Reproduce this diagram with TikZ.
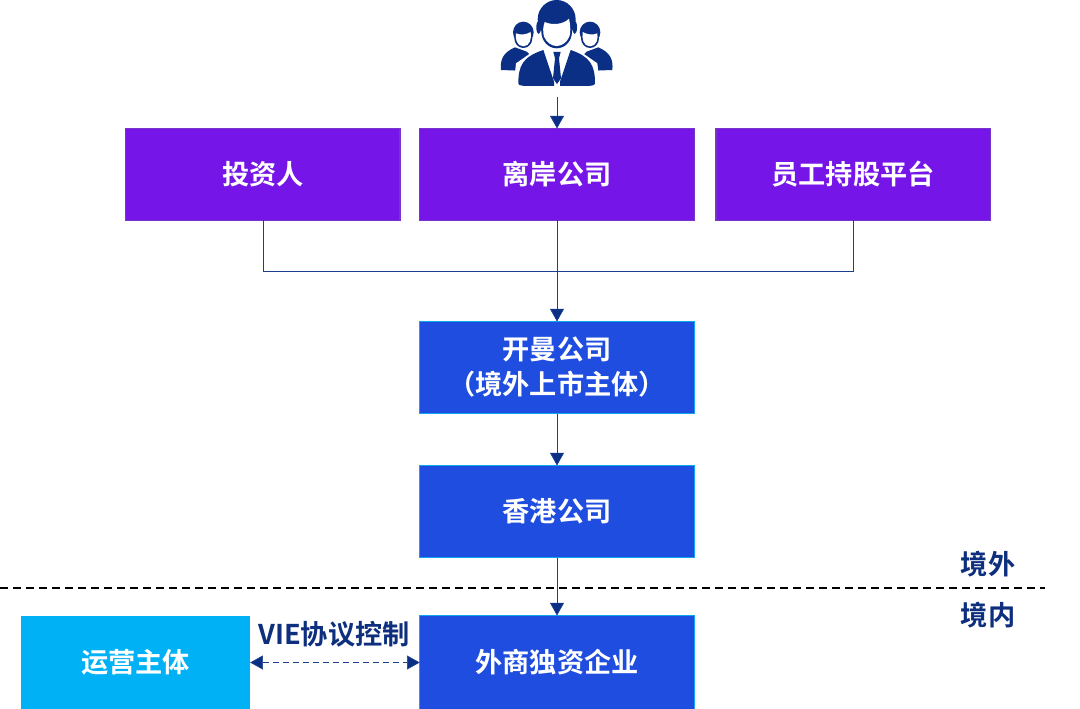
\documentclass[tikz,border=0pt]{standalone}
\usepackage{fontspec}
\setmainfont{Noto Sans CJK SC}[BoldFont={Noto Sans CJK SC Bold}]
\usepackage{xcolor}
\definecolor{Navy Line}{HTML}{1B3F8F}
\definecolor{Navy Text}{HTML}{0D2F7D}
\definecolor{Icon Blue}{HTML}{0A2F85}
\definecolor{Deep Purple}{HTML}{7515E8}
\definecolor{Deep Blue}{HTML}{1E4DE0}
\definecolor{Sky Blue}{HTML}{00B1F6}
\usetikzlibrary{arrows.meta, positioning}
\tikzset{
	x=.75pt,
	y=-.75pt,
	line width=.9pt,
	>={Triangle[length=9.5pt,width=10.5pt,fill=Icon Blue]},
	box/.style={
		minimum width=206pt,
		minimum height=69pt,
		inner sep=0pt,
		outer sep=0pt,
		line width=1.1pt,
		text=white,
		align=center,
		font=\bfseries\fontsize{20.4pt}{26.25pt}\selectfont
	},
	holder/.style={
		box,
		draw=Deep Purple!70!gray,
		fill=Deep Purple
	},
	entity/.style={
		box,
		draw=Deep Blue!50!cyan,
		fill=Deep Blue
	},
	link/.style={
		draw=Navy Line
	},
	side/.style={
		text=Navy Text,
		inner sep=0pt,
		font=\bfseries\fontsize{20.4pt}{24pt}\selectfont
	}
}

\begin{document}
\begin{tikzpicture}
	\useasboundingbox (0,0) rectangle (1080,709);
	% people icon
	\begin{scope}[shift={(480,0)},x=.25pt,y=-.25pt]
		\foreach \px/\flip in {130/1,330/-1}{
			\begin{scope}[shift={(\px,0)},xscale=\flip]
				\fill[Icon Blue] (-67,210) .. controls (-70,180) and (-62,158) .. (-25,142) -- (10,155) -- (25,170) .. controls (5,175) and (-12,195) .. (-14,212) -- cycle;
				\fill[Icon Blue] (0,97) ellipse (31 and 32);
				\fill[Icon Blue] (0,115) ellipse (27 and 29);
				\fill[white] (-22,100) .. controls (-8,106) and (8,104) .. (22,96) .. controls (25,115) and (20,139) .. (0,139) .. controls (-20,139) and (-25,115) .. (-22,100) -- cycle;
			\end{scope}
		}
		\fill[white] (100,262) -- (108,190) -- (180,140) -- (280,140) -- (352,190) -- (360,262) -- cycle;
		\fill[Icon Blue] (115,250) .. controls (115,195) and (130,170) .. (190,150) -- (222,245) -- (222,258) -- (155,258) .. controls (130,258) and (115,258) .. (115,250) -- cycle;
		\fill[Icon Blue] (345,250) .. controls (345,195) and (330,170) .. (272,150) -- (240,245) -- (240,258) -- (305,258) .. controls (330,258) and (345,258) .. (345,250) -- cycle;
		\fill[Icon Blue] (220,156) -- (242,156) -- (237,175) -- (243,235) -- (231,252) -- (219,235) -- (225,175) -- cycle;
		\fill[Icon Blue] (230,58) ellipse (57 and 58);
		\fill[Icon Blue] (230,95) ellipse (46 and 50);
		\fill[Icon Blue] (176,82) ellipse (7 and 20);
		\fill[Icon Blue] (284,82) ellipse (7 and 20);
		\fill[white] (194,66) .. controls (215,76) and (250,74) .. (267,56) .. controls (272,80) and (272,98) .. (268,110) .. controls (260,128) and (245,138) .. (230,138) .. controls (215,138) and (200,128) .. (192,110) .. controls (188,95) and (189,80) .. (194,66) -- cycle;
	\end{scope}
	\coordinate (icon) at (557,97);
	\node[holder] (offshore) at (557,174.5) {离岸公司};
	\node[holder,left=14.6pt of offshore] (investor) {投资人};
	\node[holder,right=16.1pt of offshore] (staff) {员工持股平台};
	\node[entity,below=75.75pt of offshore] (cayman) {开曼公司\\（境外上市主体）};
	\node[entity,below=39pt of cayman] (hongkong) {香港公司};
	\node[entity,minimum height=70.5pt,below=43.5pt of hongkong] (wfoe) {外商独资企业};
	\node[box,fill=Sky Blue,minimum width=171.75pt,minimum height=70.5pt,left=127.1pt of wfoe] (operator) {运营主体};
	\node[side] (vie) at (334,634) {VIE协议控制};
	\node[side] (abroad) at (988,564) {境外};
	\node[side] (domestic) at (988,615) {境内};
	\coordinate (borderl) at (0,588);
	\coordinate (borderr) at (1045,588);
	\coordinate (joint) at (557,271);
	\draw[link,->] (icon) -- (offshore);
	\draw[link] (investor.south) |- (joint);
	\draw[link] (staff.south) |- (joint);
	\draw[link,->] (offshore) -- (cayman);
	\draw[link,->] (cayman) -- (hongkong);
	\draw[link,->] (hongkong) -- (wfoe);
	\draw[dash pattern=on 6pt off 3.75pt,line width=.8pt] (borderl) -- (borderr);
	\draw[link,<->,dash pattern=on 5pt off 2.5pt] (operator) -- (wfoe);
\end{tikzpicture}
\end{document}
